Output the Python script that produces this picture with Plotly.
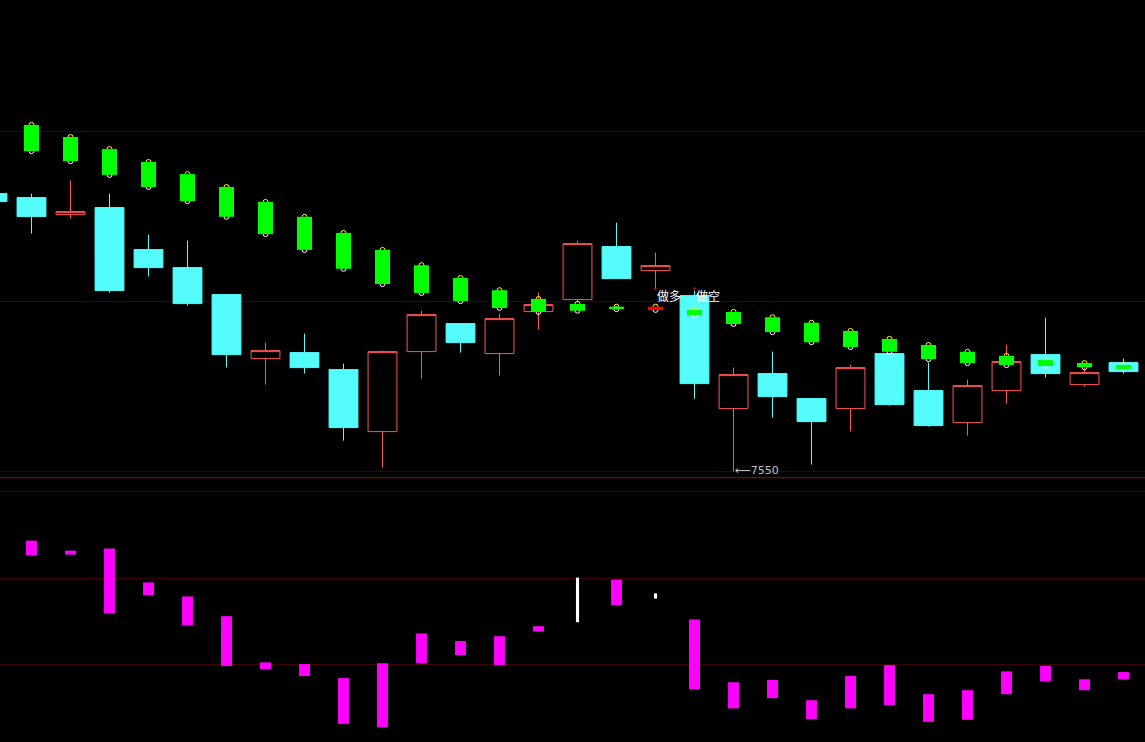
import plotly.graph_objects as go

# ---- data -------------------------------------------------------------
idx = list(range(-1, 29))
opens = [7828, 7824, 7807, 7814, 7772, 7754, 7727, 7663, 7669, 7652, 7590, 7670, 7698, 7668, 7710,
         7722, 7775, 7751, 7726, 7613, 7648, 7623, 7613, 7668, 7631, 7599, 7631, 7667, 7637, 7659]
highs = [7828, 7828, 7841, 7828, 7787, 7781, 7727, 7679, 7688, 7658, 7671, 7711, 7698, 7708, 7729,
         7781, 7799, 7769, 7731, 7654, 7670, 7623, 7657, 7668, 7659, 7642, 7677, 7704, 7654, 7663]
lows = [7820, 7788, 7803, 7729, 7745, 7716, 7654, 7637, 7648, 7581, 7554, 7643, 7669, 7646, 7692,
        7719, 7743, 7732, 7623, 7550, 7604, 7557, 7590, 7616, 7595, 7586, 7618, 7644, 7635, 7648]
closes = [7820, 7805, 7810, 7731, 7754, 7718, 7667, 7671, 7654, 7594, 7670, 7707, 7679, 7703, 7717,
          7778, 7743, 7756, 7638, 7647, 7625, 7600, 7654, 7617, 7596, 7636, 7660, 7648, 7649, 7650]

sig_x = list(range(0, 29))
sig_top = [7896.7, 7884.6, 7872.5, 7859.6, 7847.5, 7834.6, 7819.7, 7804.8, 7788.7, 7771.7, 7756.4,
           7743.5, 7731.4, 7722.6, 7717.7, 7714.9, 7714.9, 7711.7, 7709.7, 7704.4, 7698.8, 7690.7,
           7682.7, 7676.6, 7669.8, 7665.7, 7661.7, 7658.5, 7656.5]
sig_bot = [7870.5, 7860.4, 7846.7, 7834.6, 7820.5, 7804.8, 7787.5, 7771.7, 7752.8, 7737.5, 7728.6,
           7720.5, 7713.7, 7709.7, 7710.9, 7712.5, 7711.7, 7706.4, 7697.6, 7689.5, 7679.4, 7674.6,
           7669.8, 7662.5, 7658.5, 7656.5, 7655.7, 7654.4, 7652.4]
sig_kind = ["g"] * 16 + ["r"] + ["g"] * 12

ind_top = [71.7, 65.9, 67.1, 47.5, 39.4, 28.0, 1.3, 0.3, -7.8, 0.8, 18.0, 13.6, 16.4, 22.2, 50.3,
           49.1, 41.2, 26.1, -10.2, -8.9, -20.6, -6.6, -0.3, -17.1, -14.8, -3.9, -0.8, -8.5, -4.3]
ind_bot = [63.1, 63.6, 29.6, 40.1, 22.7, -0.8, -2.7, -6.6, -34.3, -36.2, 0.8, 5.5, -0.3, 19.1, 24.5,
           34.3, 38.2, -14.3, -25.3, -19.4, -31.5, -25.3, -23.4, -33.1, -31.9, -17.1, -9.7, -14.8, -8.5]
ind_kind = ["m"] * 14 + ["w", "m", "w"] + ["m"] * 12

label_long, label_short = "做多", "做空"
low_label = "⟵7550"
low_label_x, low_label_y = 18, 7551

upper_grid = [7550, 7720, 7890]
lower_grid = [0, 50, 100]

# ---- styles -------------------------------------------------------------
BG = "#000000"
UP = "#FF5454"
DOWN = "#54FCFC"
GRID = "#400000"
SEP = "#B00000"
sig_colors = {"g": "#00FF00", "r": "#FF0000"}
ind_colors = {"m": "#FF00FF", "w": "#FFFFFF"}
ind_widths = {"m": 0.28, "w": 0.08}

XR = [-0.808, 28.551]
Y_UP = [7543.9, 8021.6]
Y_LO = [-44.75, 100.6]
DOM_UP = [1 - 477.7 / 742, 1]
DOM_LO = [0, (742 - 490.6) / 742]

fig = go.Figure()

# main candles
fig.add_trace(go.Candlestick(
    x=idx, open=opens, high=highs, low=lows, close=closes,
    increasing=dict(line=dict(color=UP, width=1), fillcolor=BG),
    decreasing=dict(line=dict(color=DOWN, width=1), fillcolor=DOWN),
    whiskerwidth=0, xaxis="x", yaxis="y", hoverinfo="skip", showlegend=False))

# marker dots (yellow at top, white at bottom)
fig.add_trace(go.Scatter(x=sig_x, y=sig_top, mode="markers", xaxis="x2", yaxis="y2",
                         marker=dict(symbol="circle-open", size=5, color="#FFFF00", line=dict(width=1)),
                         hoverinfo="skip", showlegend=False))
fig.add_trace(go.Scatter(x=sig_x, y=sig_bot, mode="markers", xaxis="x2", yaxis="y2",
                         marker=dict(symbol="circle-open", size=5, color="#FFFFFF", line=dict(width=1)),
                         hoverinfo="skip", showlegend=False))

# signal boxes
fig.add_trace(go.Bar(x=sig_x, y=[t - b for t, b in zip(sig_top, sig_bot)], base=sig_bot,
                     width=0.385, xaxis="x3", yaxis="y3",
                     marker=dict(color=[sig_colors[k] for k in sig_kind], line=dict(width=0)),
                     hoverinfo="skip", showlegend=False))

# text anchor dots
fig.add_trace(go.Scatter(x=[16, 17], y=[7732.5, 7733.2], mode="markers", xaxis="x3", yaxis="y3",
                         marker=dict(symbol="square", size=2, color="#FF0000"),
                         hoverinfo="skip", showlegend=False))

# lower panel indicator
fig.add_trace(go.Bar(x=sig_x, y=[t - b for t, b in zip(ind_top, ind_bot)], base=ind_bot,
                     width=[ind_widths[k] for k in ind_kind], xaxis="x4", yaxis="y4",
                     marker=dict(color=[ind_colors[k] for k in ind_kind], line=dict(width=0)),
                     hoverinfo="skip", showlegend=False))

ax_hidden = dict(visible=False, showgrid=False, zeroline=False)
fig.update_layout(
    width=1145, height=742, autosize=False,
    margin=dict(l=0, r=0, t=0, b=0, pad=0),
    paper_bgcolor=BG, plot_bgcolor=BG,
    showlegend=False, barmode="overlay", boxgap=0.26, boxgroupgap=0, boxmode="overlay",
    xaxis=dict(range=XR, domain=[0, 1], anchor="y", rangeslider=dict(visible=False), **ax_hidden),
    yaxis=dict(range=Y_UP, domain=DOM_UP, anchor="x", tickmode="array", tickvals=upper_grid,
               showgrid=True, gridcolor=GRID, gridwidth=1, showticklabels=False,
               zeroline=False, showline=False, ticks=""),
    xaxis2=dict(range=XR, overlaying="x", matches="x", anchor="y2", **ax_hidden),
    yaxis2=dict(range=Y_UP, overlaying="y", matches="y", anchor="x2", **ax_hidden),
    xaxis3=dict(range=XR, overlaying="x", matches="x", anchor="y3", **ax_hidden),
    yaxis3=dict(range=Y_UP, overlaying="y", matches="y", anchor="x3", **ax_hidden),
    xaxis4=dict(range=XR, domain=[0, 1], anchor="y4", **ax_hidden),
    yaxis4=dict(range=Y_LO, domain=DOM_LO, anchor="x4", tickmode="array", tickvals=lower_grid,
                showgrid=True, gridcolor=GRID, gridwidth=1, showticklabels=False,
                zeroline=False, showline=False, ticks=""),
    font=dict(family="Noto Sans CJK SC, DejaVu Sans", color="#FFFFFF"),
    hovermode=False,
)

fig.add_shape(type="line", xref="paper", yref="paper", x0=0, x1=1,
              y0=DOM_UP[0], y1=DOM_UP[0], line=dict(color=SEP, width=1))

fig.add_annotation(x=16, y=7726.5, xref="x3", yref="y3", text=label_long, showarrow=False,
                   xanchor="left", yanchor="middle", xshift=-1,
                   font=dict(size=12, color="#FFFFFF", family="Noto Sans CJK SC"))
fig.add_annotation(x=17, y=7726.5, xref="x3", yref="y3", text=label_short, showarrow=False,
                   xanchor="left", yanchor="middle", xshift=-1,
                   font=dict(size=12, color="#FFFFFF", family="Noto Sans CJK SC"))
fig.add_annotation(x=low_label_x, y=low_label_y, xref="x3", yref="y3", text=low_label,
                   showarrow=False, xanchor="left", yanchor="middle", xshift=-1,
                   font=dict(size=11, color="#C0C0C0", family="DejaVu Sans"))

fig.write_html(
    "out.html",
    config={"displayModeBar": False, "staticPlot": True},
    post_script="document.body.style.margin='0';document.body.style.padding='0';"
                "document.body.style.backgroundColor='#000';"
                "document.body.style.overflow='hidden';",
)
